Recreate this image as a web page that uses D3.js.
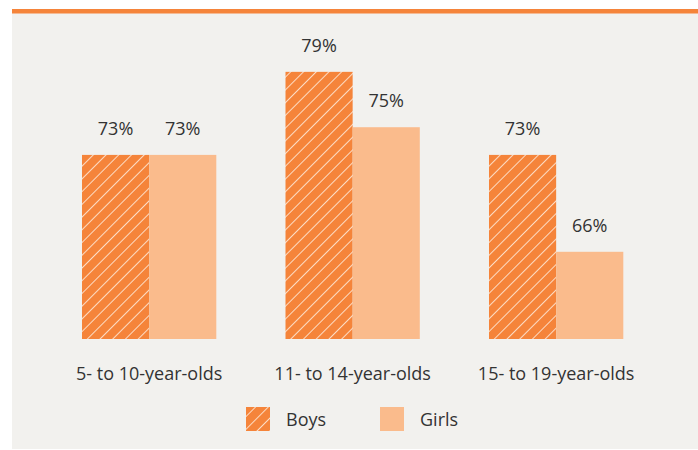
<!DOCTYPE html>
<html><head><meta charset="utf-8">
<script src="https://cdn.jsdelivr.net/npm/d3@7"></script>
<style>body{margin:0;background:#fff;}svg{display:block;font-family:"Open Sans",sans-serif;}</style>
</head><body>
<svg id="chart" width="698" height="450"></svg>
<script>
const categories = ["5- to 10-year-olds", "11- to 14-year-olds", "15- to 19-year-olds"];
const seriesNames = ["Boys", "Girls"];
const boys = [73, 79, 73];
const girls = [73, 75, 66];
const colors = {Boys: "#F5843A", Girls: "#FABB8C"};

const svg = d3.select("#chart");
svg.append("rect").attr("x", 12).attr("y", 9).attr("width", 686).attr("height", 440).attr("fill", "#F2F1EE");
svg.append("rect").attr("x", 12).attr("y", 9).attr("width", 686).attr("height", 4.5).attr("fill", "#F5843A");

const defs = svg.append("defs");
const pat = defs.append("pattern").attr("id", "hatch").attr("patternUnits", "userSpaceOnUse")
  .attr("width", 9).attr("height", 9).attr("patternTransform", "rotate(45)");
pat.append("rect").attr("width", 9).attr("height", 9).attr("fill", colors.Boys);
pat.append("line").attr("x1", 0).attr("y1", 0).attr("x2", 0).attr("y2", 9)
  .attr("stroke", "#FFF3E8").attr("stroke-width", 1.6);

const x0 = d3.scaleBand().domain(categories).range([47.4, 657.9]).paddingInner(0.34).paddingOuter(0.17);
const x1 = d3.scaleBand().domain(seriesNames).range([0, x0.bandwidth()]);
const y = d3.scaleLinear().domain([59.7, 80]).range([339, 58]);

const data = categories.map((c, i) => ({cat: c, vals: [{s: "Boys", v: boys[i]}, {s: "Girls", v: girls[i]}]}));

const g = svg.append("g");
const groups = g.selectAll("g.grp").data(data).join("g").attr("class", "grp")
  .attr("transform", d => `translate(${x0(d.cat)},0)`);
groups.selectAll("rect").data(d => d.vals).join("rect")
  .attr("x", d => x1(d.s)).attr("width", x1.bandwidth())
  .attr("y", d => y(d.v)).attr("height", d => y(59.7) - y(d.v))
  .attr("fill", d => d.s === "Boys" ? "url(#hatch)" : colors.Girls);
groups.selectAll("text").data(d => d.vals).join("text")
  .attr("x", d => x1(d.s) + x1.bandwidth() / 2).attr("y", d => y(d.v) - 20)
  .attr("text-anchor", "middle").attr("font-size", 18).attr("fill", "#333")
  .text(d => d.v + "%");

const xAxis = d3.axisBottom(x0).tickSize(0).tickPadding(0);
const ax = svg.append("g").attr("transform", "translate(0,367)").call(xAxis);
ax.select(".domain").remove();
ax.selectAll("text").attr("font-size", 18).attr("fill", "#333").attr("font-family", "'Open Sans',sans-serif");

const leg = svg.append("g");
const legX = [246, 380];
seriesNames.forEach((s, i) => {
  leg.append("rect").attr("x", legX[i]).attr("y", 407).attr("width", 24).attr("height", 24)
    .attr("fill", s === "Boys" ? "url(#hatch)" : colors.Girls);
  leg.append("text").attr("x", legX[i] + 40).attr("y", 426).attr("font-size", 18).attr("fill", "#333").text(s);
});
</script>
</body></html>
